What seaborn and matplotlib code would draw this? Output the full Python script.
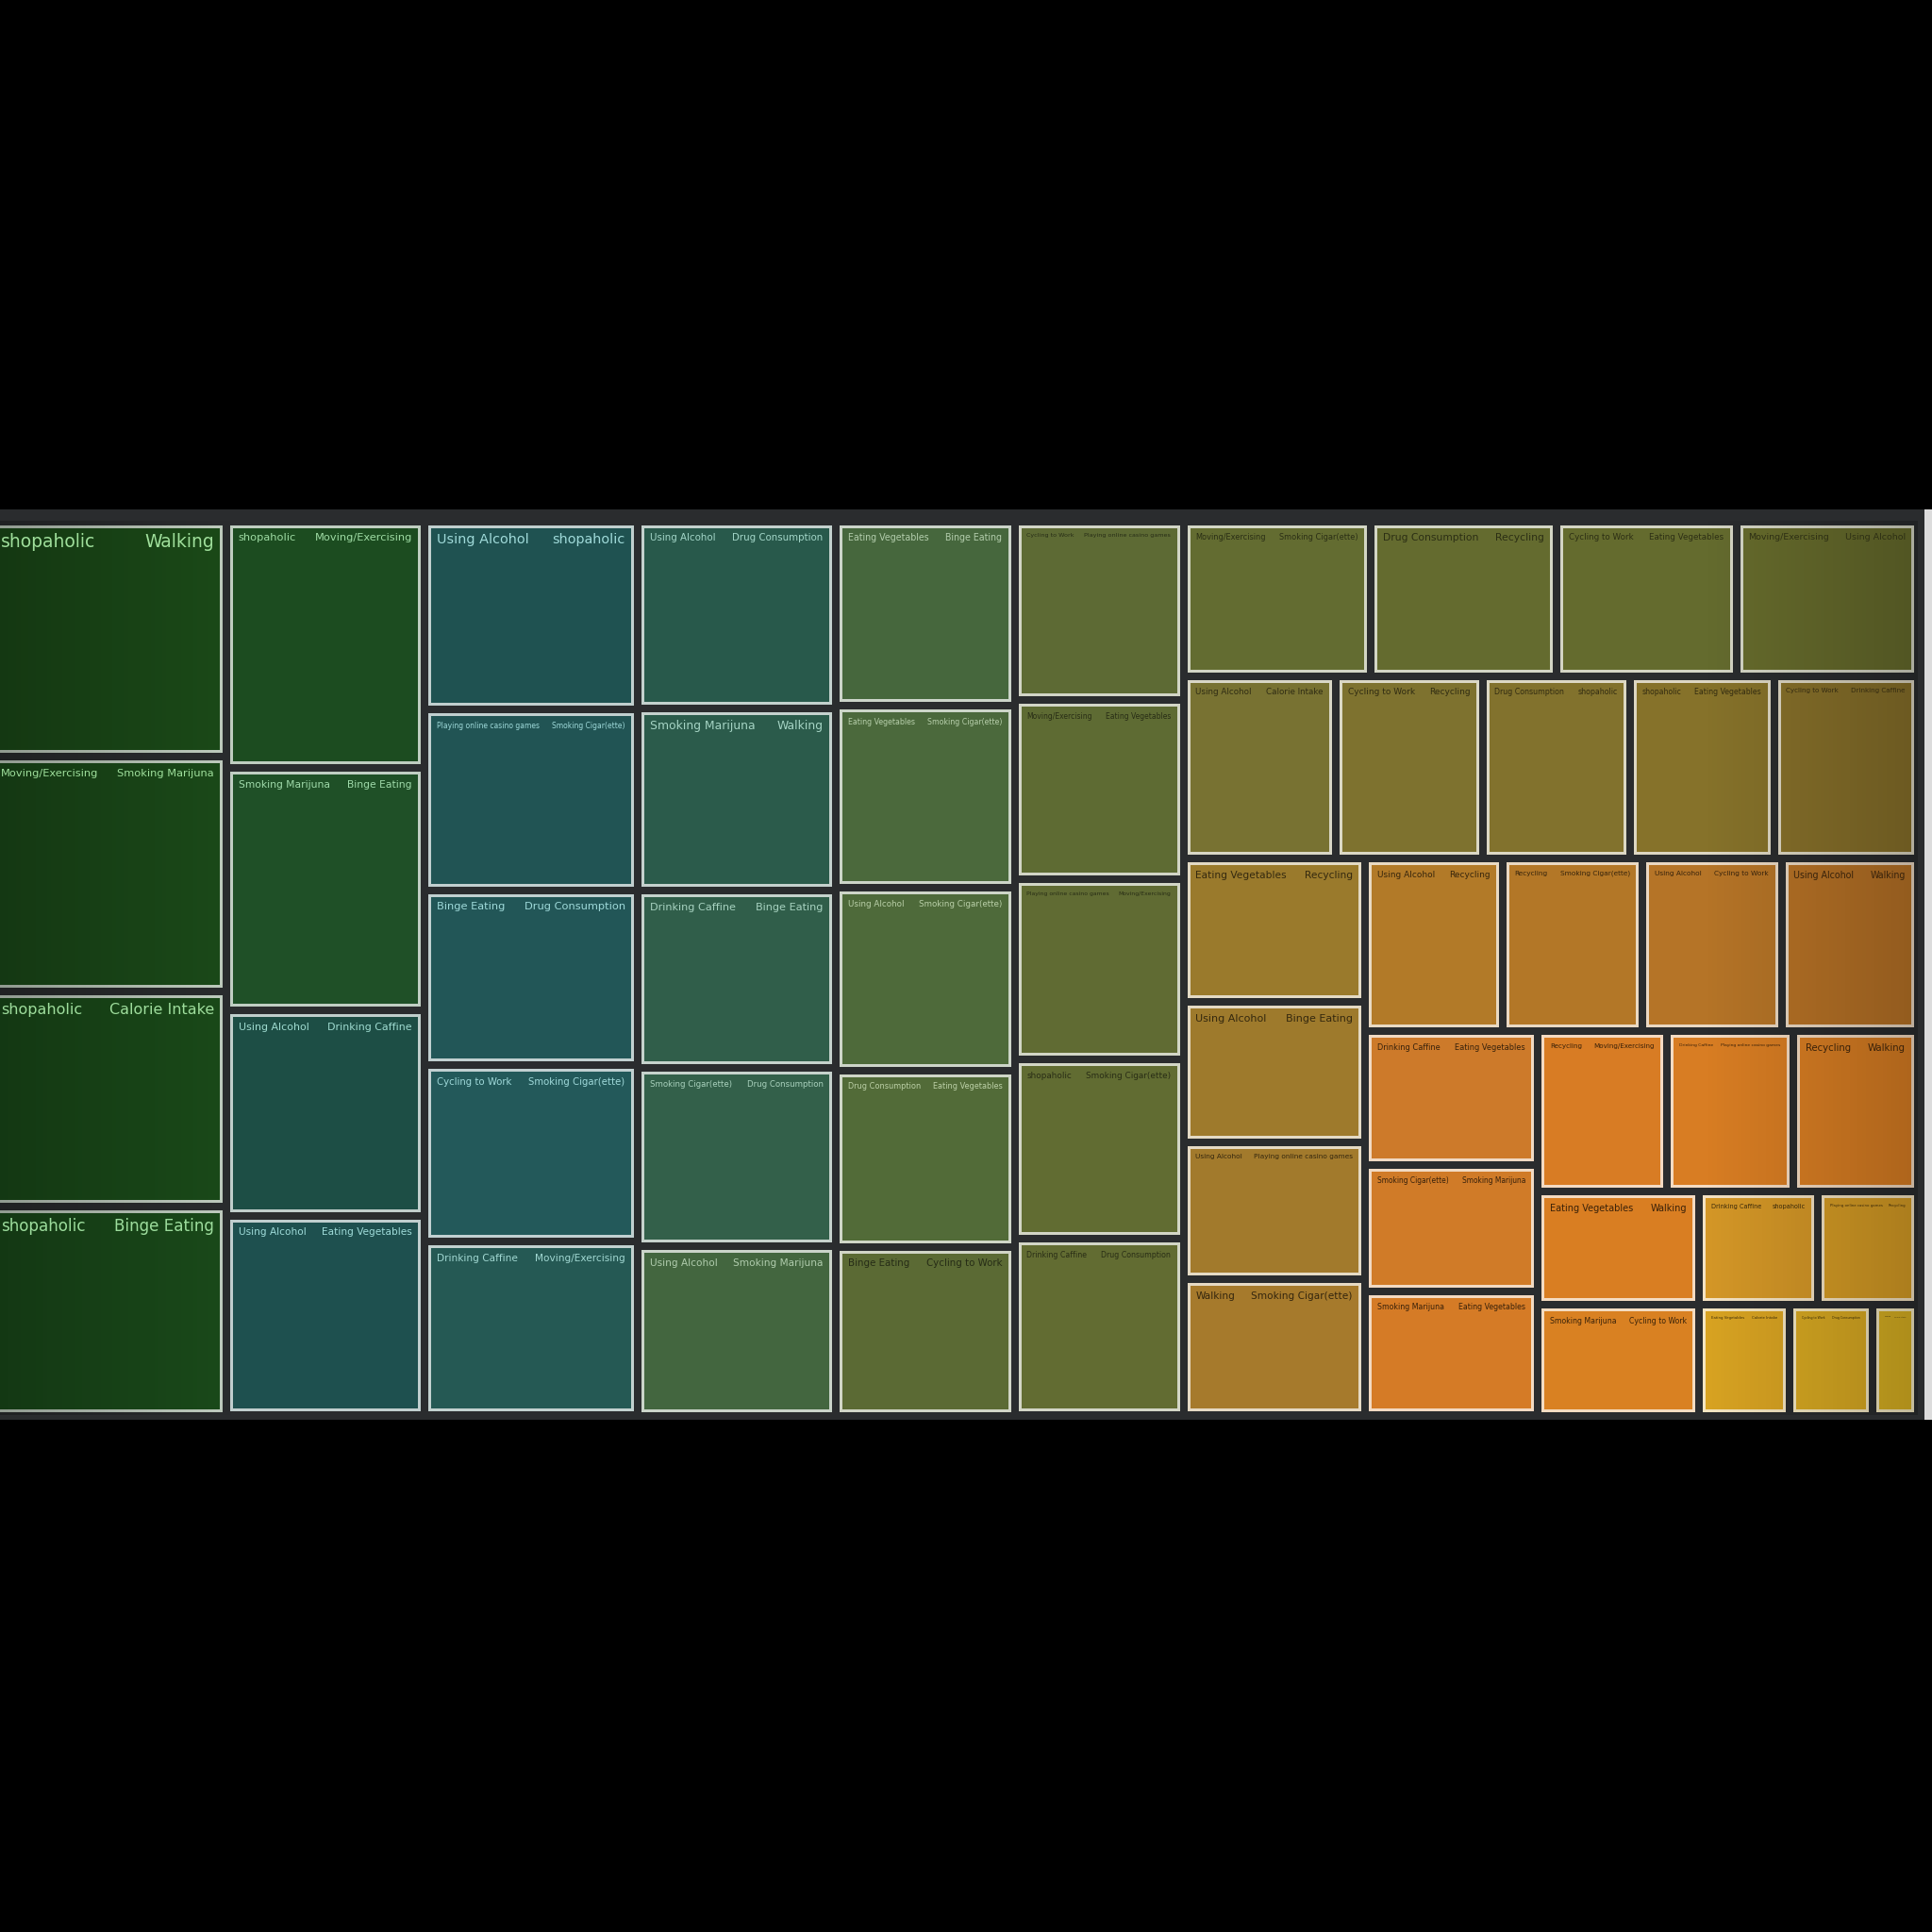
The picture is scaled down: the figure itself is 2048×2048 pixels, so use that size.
import colorsys

import numpy as np
import pandas as pd
import matplotlib
matplotlib.use("Agg")
import matplotlib.pyplot as plt
import seaborn as sns
from matplotlib.patches import Rectangle
from matplotlib.colors import LinearSegmentedColormap, to_rgb

# habit pairs, in the order the treemap lays them out (largest first)
first_habit = [
    "shopaholic", "Moving/Exercising", "shopaholic", "shopaholic",
    "shopaholic", "Smoking Marijuna", "Using Alcohol", "Using Alcohol",
    "Using Alcohol", "Playing online casino games", "Binge Eating", "Cycling to Work", "Drinking Caffine",
    "Using Alcohol", "Smoking Marijuna", "Drinking Caffine", "Smoking Cigar(ette)", "Using Alcohol",
    "Eating Vegetables", "Eating Vegetables", "Using Alcohol", "Drug Consumption", "Binge Eating",
    "Cycling to Work", "Moving/Exercising", "Playing online casino games", "shopaholic", "Drinking Caffine",
    "Moving/Exercising", "Drug Consumption", "Cycling to Work", "Moving/Exercising",
    "Using Alcohol", "Cycling to Work", "Drug Consumption", "shopaholic", "Cycling to Work",
    "Eating Vegetables", "Using Alcohol", "Using Alcohol", "Walking",
    "Using Alcohol", "Recycling", "Using Alcohol", "Using Alcohol",
    "Drinking Caffine", "Smoking Cigar(ette)", "Smoking Marijuna",
    "Recycling", "Drinking Caffine", "Recycling",
    "Eating Vegetables", "Smoking Marijuna",
    "Drinking Caffine", "Playing online casino games",
    "Eating Vegetables", "Cycling to Work", "Walking",
]
second_habit = [
    "Walking", "Smoking Marijuna", "Calorie Intake", "Binge Eating",
    "Moving/Exercising", "Binge Eating", "Drinking Caffine", "Eating Vegetables",
    "shopaholic", "Smoking Cigar(ette)", "Drug Consumption", "Smoking Cigar(ette)", "Moving/Exercising",
    "Drug Consumption", "Walking", "Binge Eating", "Drug Consumption", "Smoking Marijuna",
    "Binge Eating", "Smoking Cigar(ette)", "Smoking Cigar(ette)", "Eating Vegetables", "Cycling to Work",
    "Playing online casino games", "Eating Vegetables", "Moving/Exercising", "Smoking Cigar(ette)", "Drug Consumption",
    "Smoking Cigar(ette)", "Recycling", "Eating Vegetables", "Using Alcohol",
    "Calorie Intake", "Recycling", "shopaholic", "Eating Vegetables", "Drinking Caffine",
    "Recycling", "Binge Eating", "Playing online casino games", "Smoking Cigar(ette)",
    "Recycling", "Smoking Cigar(ette)", "Cycling to Work", "Walking",
    "Eating Vegetables", "Smoking Marijuna", "Eating Vegetables",
    "Moving/Exercising", "Playing online casino games", "Walking",
    "Walking", "Cycling to Work",
    "shopaholic", "Recycling",
    "Calorie Intake", "Drug Consumption", "Calorie Intake",
]
pair_value = [
    63.0, 62.5, 57.5, 55.9,
    55.0, 54.0, 45.6, 44.5,
    45.2, 43.2, 42.0, 42.3, 41.6,
    41.6, 40.7, 39.5, 39.7, 37.6,
    37.2, 36.7, 36.7, 35.5, 34.0,
    34.0, 34.0, 34.2, 34.0, 33.5,
    32.6, 32.4, 31.3, 31.7,
    31.3, 30.1, 30.3, 29.5, 29.6,
    29.2, 28.6, 28.0, 27.8,
    26.7, 27.1, 26.9, 26.5,
    26.0, 24.5, 24.2,
    23.3, 22.8, 22.5,
    20.5, 20.1,
    15.1, 12.7,
    11.3, 10.3, 5.7,
]

df = pd.DataFrame({"first": first_habit, "second": second_habit, "value": pair_value})
df["rank"] = np.arange(len(df))


def worst(row, side):
    s = sum(row)
    return max(max(side * side * r / (s * s), s * s / (side * side * r)) for r in row)


def squarify(sizes, x, y, w, h):
    """Squarified treemap layout, returns (x, y, w, h) per size, y grows downwards."""
    rects = []
    i, n = 0, len(sizes)
    while i < n:
        side = min(w, h)
        row = [sizes[i]]
        j = i + 1
        while j < n and worst(row + [sizes[j]], side) <= worst(row, side):
            row.append(sizes[j])
            j += 1
        s = sum(row)
        if w < h:
            rh = s / w
            cx = x
            for r in row:
                rects.append((cx, y, r / rh, rh))
                cx += r / rh
            y += rh
            h -= rh
        else:
            cw = s / h
            cy = y
            for r in row:
                rects.append((x, cy, cw, r / cw))
                cy += r / cw
            x += cw
            w -= cw
        i = j
    return rects


def shade(color, lightness):
    h, l, s = colorsys.rgb_to_hls(*to_rgb(color))
    return colorsys.hls_to_rgb(h, lightness, min(1.0, s))


# canvas of the treemap, in pixels
W, H = 2045.0, 948.0
sizes = df["value"].to_numpy() * W * H / df["value"].sum()
cells = squarify(list(sizes), 0.0, 0.0, W, H)

n = len(df)
anchors = [
    (0, "#1b4a18"), (3, "#1a4a1a"), (5, "#1f5028"), (6, "#1d4e4c"), (11, "#23595a"),
    (13, "#28594b"), (16, "#34604a"), (17, "#43663f"), (21, "#526b38"), (22, "#5c6a34"),
    (27, "#626c32"), (31, "#656a2c"), (32, "#797232"), (35, "#86722a"), (36, "#87702a"),
    (37, "#9a7a2c"), (40, "#a67a2c"), (41, "#b27a28"), (44, "#b67226"), (45, "#cc7a2a"),
    (48, "#d87c24"), (52, "#d97f22"), (53, "#d49628"), (55, "#d8a122"), (57, "#d8b022"),
]
cmap = LinearSegmentedColormap.from_list("habits", [(k / (n - 1), c) for k, c in anchors])

sns.set_theme(style="dark")
plt.rcParams["font.family"] = ["DejaVu Sans"]

fig = plt.figure(figsize=(20.48, 20.48), dpi=100, facecolor="black")
# dark frame of the visual and the light strip on its right (behind the axes)
fig.patches.append(Rectangle((0, 1 - 1505 / 2048), 2040 / 2048, 965 / 2048, zorder=-5,
                             transform=fig.transFigure, facecolor="#2a2c2e", edgecolor="none"))
fig.patches.append(Rectangle((2040 / 2048, 1 - 1505 / 2048), 8 / 2048, 965 / 2048, zorder=-5,
                             transform=fig.transFigure, facecolor="#dcdcdc", edgecolor="none"))

ax = fig.add_axes([-12 / 2048, 1 - 1500 / 2048, W / 2048, H / 2048])
ax.set_zorder(2)
ax.set_facecolor("#2a2c2e")
renderer = fig.canvas.get_renderer()

gap, lw_px, pad = 4.0, 3.0, 9.0
for (x, y, w, h), row in zip(cells, df.itertuples()):
    color = cmap(row.rank / (n - 1))
    edge = tuple(0.28 * np.array(color[:3]) + 0.72)
    ax.add_patch(Rectangle((x + gap + lw_px / 2, y + gap + lw_px / 2),
                           w - 2 * gap - lw_px, h - 2 * gap - lw_px,
                           facecolor=color, edgecolor=edge, linewidth=lw_px * 0.72, zorder=2))
    tcolor = shade(color, 0.74) if row.rank < 22 else shade(color, 0.13)
    left = ax.text(x + gap + pad, y + gap + 9, row.first, ha="left", va="top",
                   fontsize=10, color=tcolor, zorder=4)
    right = ax.text(x + w - gap - pad, y + gap + 9, row.second, ha="right", va="top",
                    fontsize=10, color=tcolor, zorder=4)
    wl = left.get_window_extent(renderer).width
    wr = right.get_window_extent(renderer).width
    em = 10 * 100 / 72
    avail = w - 2 * gap - 2 * pad
    size = min(13.5, 10 * avail / (wl + wr + 1.8 * em))
    left.set_fontsize(size)
    right.set_fontsize(size)

# slight darkening towards the left and right edges of the screen
xs = np.linspace(0, W, 512)
alpha = 0.25 * np.clip(1 - xs / 260, 0, 1) + 0.2 * np.clip((xs - 1820) / 225, 0, 1)
shadow = np.zeros((1, xs.size, 4))
shadow[0, :, 3] = alpha
ax.imshow(shadow, extent=(0, W, H, 0), aspect="auto", interpolation="bilinear", zorder=3)

ax.set_xlim(0, W)
ax.set_ylim(H, 0)
ax.axis("off")

fig.savefig("out.png", dpi=100, facecolor="black")
